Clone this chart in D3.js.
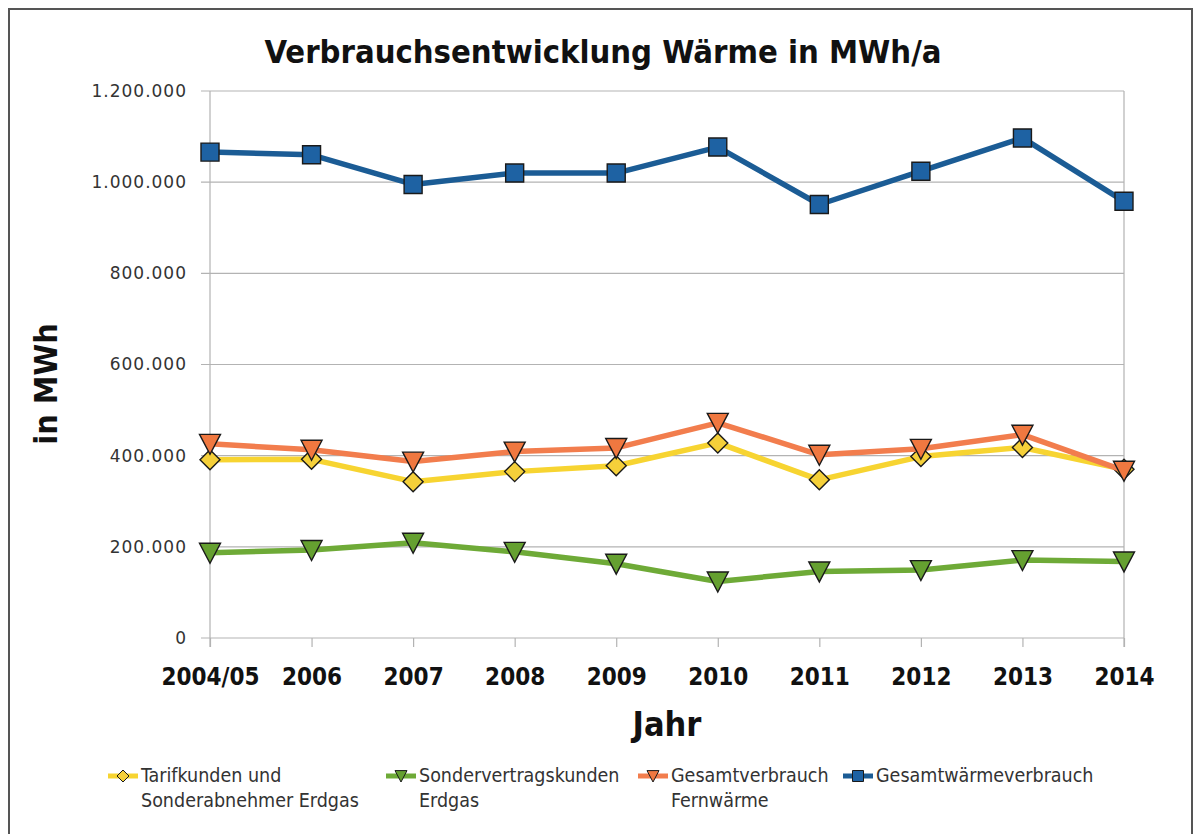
<!DOCTYPE html>
<html><head><meta charset="utf-8">
<script src="https://cdn.jsdelivr.net/npm/d3@7"></script>
<style>html,body{margin:0;padding:0;background:#fff;}svg{display:block;}</style>
</head><body>
<svg id="c" width="1194" height="834"></svg>
<script>
const categories = ["2004/05","2006","2007","2008","2009","2010","2011","2012","2013","2014"];
const tarifkunden = [391000,392000,343000,365000,378000,428000,347000,398000,418000,370000];
const sondervertrag = [187000,193000,209000,189000,163000,124000,146000,149000,171000,168000];
const fernwaerme = [426000,413000,387000,409000,417000,472000,402000,415000,446000,367000];
const gesamtwaerme = [1066000,1060000,995000,1020000,1020000,1077000,951000,1024000,1097000,958000];
const yTicks = [0,200000,400000,600000,800000,1000000,1200000];
const seriesNames = ["Tarifkunden und\nSonderabnehmer Erdgas","Sondervertragskunden\nErdgas","Gesamtverbrauch\nFernwärme","Gesamtwärmeverbrauch"];

const series = [
  {name: seriesNames[0], values: tarifkunden, line:"#f7d431", fill:"#f5d03a", shape:"diamond"},
  {name: seriesNames[1], values: sondervertrag, line:"#6eaa37", fill:"#65a030", shape:"tri"},
  {name: seriesNames[2], values: fernwaerme, line:"#f27d4d", fill:"#f07840", shape:"tri"},
  {name: seriesNames[3], values: gesamtwaerme, line:"#1b5c95", fill:"#1e62a3", shape:"square"}
];

const svg = d3.select("#c");
const font = "'DejaVu Sans Condensed','DejaVu Sans',sans-serif";
const fontWide = "'DejaVu Sans',sans-serif";
const L=210, R=1124, T=91, B=638;
const x = d3.scalePoint().domain(categories).range([L,R]).padding(0);
const y = d3.scaleLinear().domain([0,1200000]).range([B,T]);

// outer frame
svg.append("rect").attr("x",9).attr("y",9).attr("width",1183).attr("height",840)
  .attr("fill","none").attr("stroke","#555").attr("stroke-width",2);

// title
svg.append("text").attr("x",603).attr("y",63).attr("text-anchor","middle")
  .attr("font-family",font).attr("font-weight","bold").attr("font-size",32.5)
  .attr("fill","#111").text("Verbrauchsentwicklung Wärme in MWh/a");

// gridlines
svg.append("g").selectAll("line").data(yTicks).join("line")
  .attr("x1",L-9).attr("x2",R).attr("y1",d=>y(d)).attr("y2",d=>y(d))
  .attr("stroke","#b3b3b3").attr("stroke-width",1.2);
// left axis & right border
svg.append("line").attr("x1",L).attr("x2",L).attr("y1",T).attr("y2",B+9).attr("stroke","#b3b3b3").attr("stroke-width",1.2);
svg.append("line").attr("x1",R).attr("x2",R).attr("y1",T).attr("y2",B+9).attr("stroke","#b3b3b3").attr("stroke-width",1.2);

// y axis labels
const fmt = v => v===0 ? "0" : d3.format(",")(v).replace(/,/g,".");
const yAxis = d3.axisLeft(y).tickValues(yTicks).tickFormat(fmt).tickSize(0).tickPadding(23);
const ya = svg.append("g").attr("transform",`translate(${L},0)`).call(yAxis);
ya.select(".domain").remove();
ya.selectAll("text").attr("font-family",fontWide).attr("font-size",17).attr("letter-spacing",1).attr("fill","#333");

// x axis
const xAxis = d3.axisBottom(x).tickSize(9).tickPadding(21);
const xa = svg.append("g").attr("transform",`translate(0,${B})`).call(xAxis);
xa.select(".domain").remove();
xa.selectAll("line").attr("stroke","#b3b3b3").attr("stroke-width",1.2);
xa.selectAll("text").attr("font-family",font).attr("font-weight","bold").attr("font-size",24).attr("fill","#111");

// axis titles
svg.append("text").attr("x",667).attr("y",736).attr("text-anchor","middle")
  .attr("font-family",font).attr("font-weight","bold").attr("font-size",34).attr("fill","#111").text("Jahr");
svg.append("text").attr("transform","translate(57,384) rotate(-90)").attr("text-anchor","middle")
  .attr("font-family",font).attr("font-weight","bold").attr("font-size",32).attr("fill","#111").text("in MWh");

function symPath(shape, s){
  if(shape==="square") return `M${-s/2},${-s/2}h${s}v${s}h${-s}Z`;
  if(shape==="diamond") return `M0,${-s/2}L${s/2},0L0,${s/2}L${-s/2},0Z`;
  // downward triangle
  return `M${-s/2},${-s*0.45}L${s/2},${-s*0.45}L0,${s*0.5}Z`;
}

const line = d3.line().x((d,i)=>x(categories[i])).y(d=>y(d));
[0,1,2,3].forEach(k=>{
  const s = series[k];
  const g = svg.append("g");
  g.append("path").attr("d",line(s.values)).attr("fill","none").attr("stroke",s.line)
    .attr("stroke-width",5.5).attr("stroke-linejoin","round");
  const size = s.shape==="square"?18:(s.shape==="diamond"?20:21);
  g.selectAll("path.m").data(s.values).join("path").attr("class","m")
    .attr("transform",(d,i)=>`translate(${x(categories[i])},${y(d)})`)
    .attr("d",symPath(s.shape,size)).attr("fill",s.fill).attr("stroke","#1a1a1a").attr("stroke-width",1.4);
});

// legend
const legX = [108, 386, 638, 843];
series.forEach((s,i)=>{
  const g = svg.append("g").attr("transform",`translate(${legX[i]},776)`);
  g.append("line").attr("x1",0).attr("x2",30).attr("y1",0).attr("y2",0).attr("stroke",s.line).attr("stroke-width",5);
  g.append("path").attr("transform","translate(15,0)").attr("d",symPath(s.shape,s.shape==="square"?11:12))
    .attr("fill",s.fill).attr("stroke","#1a1a1a").attr("stroke-width",1);
  const t = g.append("text").attr("x",33).attr("y",6).attr("font-family",font).attr("font-size",19.5).attr("fill","#333");
  s.name.split("\n").forEach((ln,j)=>{
    t.append("tspan").attr("x",33).attr("dy", j===0?0:25).text(ln);
  });
});
</script>
</body></html>
